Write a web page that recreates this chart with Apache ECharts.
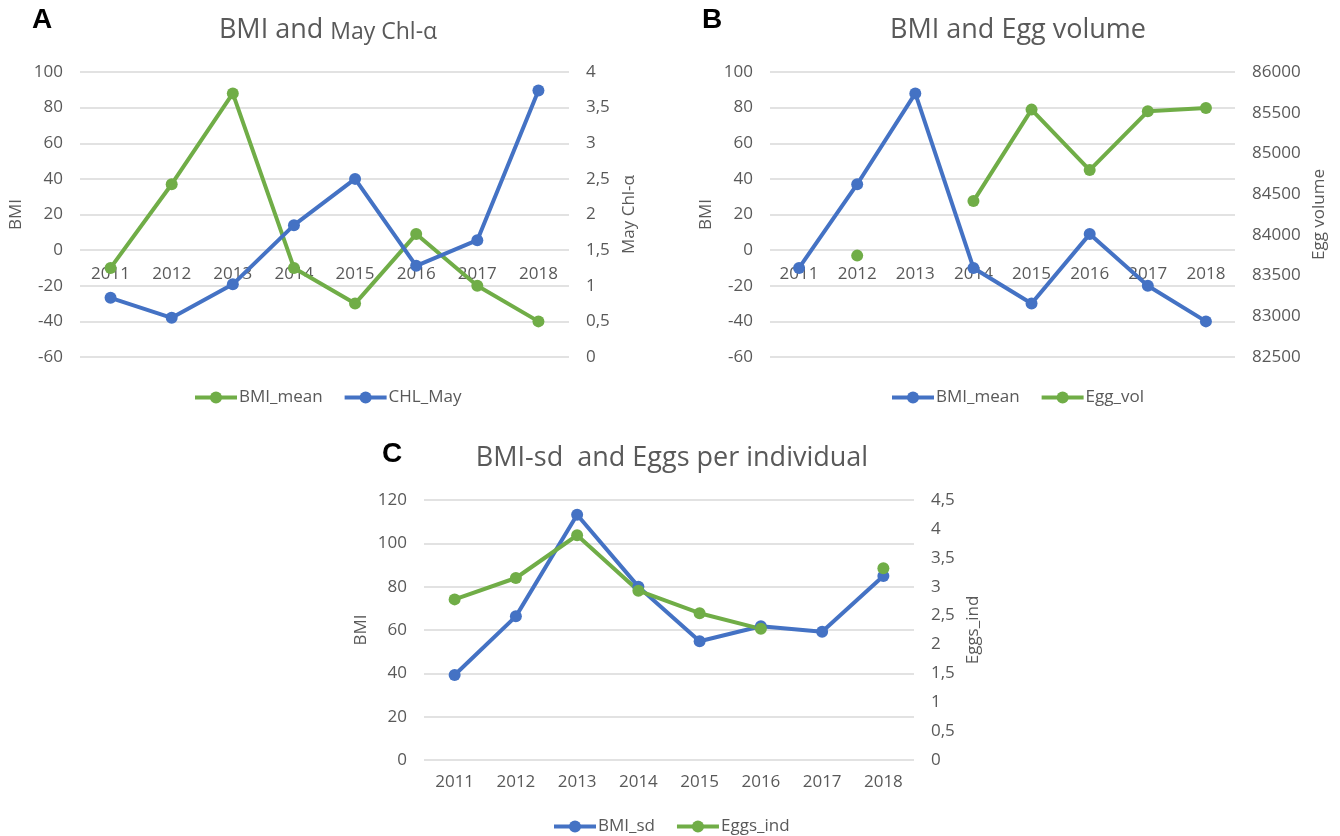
<!DOCTYPE html>
<html><head><meta charset="utf-8">
<script src="https://cdn.jsdelivr.net/npm/echarts@6/dist/echarts.min.js"></script>
<style>html,body{margin:0;padding:0;background:#fff}#c{width:1340px;height:836px}</style>
</head><body><div id="c"></div>
<script>
// ---- data ----
const years = ['2011','2012','2013','2014','2015','2016','2017','2018'];
const bmiMean = [-10, 37, 88, -10, -30, 9, -20, -40];
const chlMay = [0.83, 0.55, 1.02, 1.85, 2.5, 1.28, 1.64, 3.74];
const eggVol = [null, 83745, null, 84415, 85538, 84795, 85517, 85558];
const bmiSd = [39.2, 66.3, 113.2, 80, 54.8, 61.7, 59.2, 84.9];
const eggsInd = [2.78, 3.15, 3.89, 2.93, 2.54, 2.27, null, 3.32];
// ---- tick labels ----
const bmiTicksAB = [-60, -40, -20, 0, 20, 40, 60, 80, 100];
const chlTicks = [0, 0.5, 1, 1.5, 2, 2.5, 3, 3.5, 4];
const eggVolTicks = [82500, 83000, 83500, 84000, 84500, 85000, 85500, 86000];
const bmiTicksC = [0, 20, 40, 60, 80, 100, 120];
const eggsIndTicks = [0, 0.5, 1, 1.5, 2, 2.5, 3, 3.5, 4, 4.5];

const BLUE = '#4472C4', GREEN = '#70AD47', GREY = '#595959', GRID = '#d9d9d9';
const FONT = '"Open Sans", sans-serif';

function range(t){ return {min: t[0], max: t[t.length-1], interval: t[1]-t[0]}; }
const comma = v => String(v).replace('.', ',');

// grid layout (A, B, C)
const gA = {left: 80, top: 72, width: 489, height: 285};
const gB = {left: 770, top: 72, width: 465, height: 285};
const gC = {left: 424, top: 500, width: 490, height: 260};
// label strip for A/B ends where the BMI axis crosses zero
function zeroStrip(g, ticks){
  const mn = ticks[0], mx = ticks[ticks.length-1];
  return {left: g.left, top: g.top, width: g.width, height: g.height * mx / (mx - mn)};
}

function xAxis(gi, showLabels, margin){
  return {
    type: 'category', data: years, gridIndex: gi, boundaryGap: true, position: 'bottom',
    axisLine: {show: false},
    axisTick: {show: false},
    axisLabel: {show: showLabels, color: GREY, fontSize: 17, fontFamily: FONT, margin: margin || 15},
    splitLine: {show: false}
  };
}
function yAxis(gi, ticks, pos, name, gap, fmt){
  const r = range(ticks);
  return Object.assign({
    type: 'value', gridIndex: gi, position: pos,
    name: name, nameLocation: 'middle', nameGap: gap,
    nameTextStyle: {color: GREY, fontSize: 17, fontFamily: FONT},
    axisLine: {show: false, onZero: false}, axisTick: {show: false},
    axisLabel: {color: GREY, fontSize: 17, fontFamily: FONT, margin: 17, formatter: fmt || (v => String(v))},
    splitLine: {show: pos === 'left', lineStyle: {color: GRID, width: 1.5}}
  }, r);
}
function hiddenY(gi){ return {type: 'value', gridIndex: gi, show: false, min: 0, max: 1}; }
function line(name, data, xi, yi, color){
  return {
    type: 'line', name: name, data: data, xAxisIndex: xi, yAxisIndex: yi,
    symbol: 'circle', symbolSize: 12, showSymbol: true, showAllSymbol: true,
    connectNulls: false,
    lineStyle: {color: color, width: 4},
    itemStyle: {color: color},
    emphasis: {disabled: true}, animation: false
  };
}
function legend(left, top, names){
  return {
    left: left, top: top, data: names, itemWidth: 42, itemHeight: 15, itemGap: 20,
    lineStyle: {width: 4},
    textStyle: {color: GREY, fontSize: 17, fontFamily: FONT, padding: [0,0,0,-3]},
    formatter: n => n.split(':')[1], selectedMode: false
  };
}
const tStyle = {fontSize: 27, color: GREY, fontFamily: FONT, fontWeight: 'normal'};

const chart = echarts.init(document.getElementById('c'), null, {renderer: 'canvas'});
chart.setOption({
  animation: false,
  backgroundColor: '#fff',
  title: [
    {text: '{a|BMI and }{b|May Chl-α}', left: 323, top: 12, textAlign: 'center',
     textStyle: {fontWeight: 'normal', rich: {
       a: {fontSize: 27, color: GREY, fontFamily: FONT, fontWeight: 'normal'},
       b: {fontSize: 23, color: GREY, fontFamily: FONT, fontWeight: 'normal', padding: [3,0,0,0]}}}},
    {text: 'BMI and Egg volume', left: 1013, top: 12, textAlign: 'center', textStyle: tStyle},
    {text: 'BMI-sd  and Eggs per individual', left: 667, top: 440, textAlign: 'center', textStyle: tStyle}
  ],
  graphic: [
    {type: 'text', x: 42, y: 20, style: {text: 'A', font: 'bold 28px Arial, "Liberation Sans"', fill: '#000', align: 'center', verticalAlign: 'middle'}},
    {type: 'text', x: 712, y: 20, style: {text: 'B', font: 'bold 28px Arial, "Liberation Sans"', fill: '#000', align: 'center', verticalAlign: 'middle'}},
    {type: 'text', x: 392, y: 454, style: {text: 'C', font: 'bold 28px Arial, "Liberation Sans"', fill: '#000', align: 'center', verticalAlign: 'middle'}}
  ],
  legend: [
    legend(188, 384, ['A:BMI_mean', 'A:CHL_May']),
    legend(885, 384, ['B:BMI_mean', 'B:Egg_vol']),
    legend(547, 813, ['C:BMI_sd', 'C:Eggs_ind'])
  ],
  grid: [gA, gB, gC, zeroStrip(gA, bmiTicksAB), zeroStrip(gB, bmiTicksAB)],
  xAxis: [xAxis(0, false), xAxis(1, false), xAxis(2, true, 14), xAxis(3, true, 16), xAxis(4, true, 16)],
  yAxis: [
    yAxis(0, bmiTicksAB, 'left', 'BMI', 55),
    yAxis(0, chlTicks, 'right', 'May Chl-α', 52, comma),
    yAxis(1, bmiTicksAB, 'left', 'BMI', 55),
    yAxis(1, eggVolTicks, 'right', 'Egg volume', 76),
    yAxis(2, bmiTicksC, 'left', 'BMI', 54),
    yAxis(2, eggsIndTicks, 'right', 'Eggs_ind', 51, comma),
    hiddenY(3), hiddenY(4)
  ],
  series: [
    line('A:BMI_mean', bmiMean, 0, 0, GREEN),
    line('A:CHL_May', chlMay, 0, 1, BLUE),
    line('B:BMI_mean', bmiMean, 1, 2, BLUE),
    line('B:Egg_vol', eggVol, 1, 3, GREEN),
    line('C:BMI_sd', bmiSd, 2, 4, BLUE),
    line('C:Eggs_ind', eggsInd, 2, 5, GREEN)
  ]
});
</script></body></html>
